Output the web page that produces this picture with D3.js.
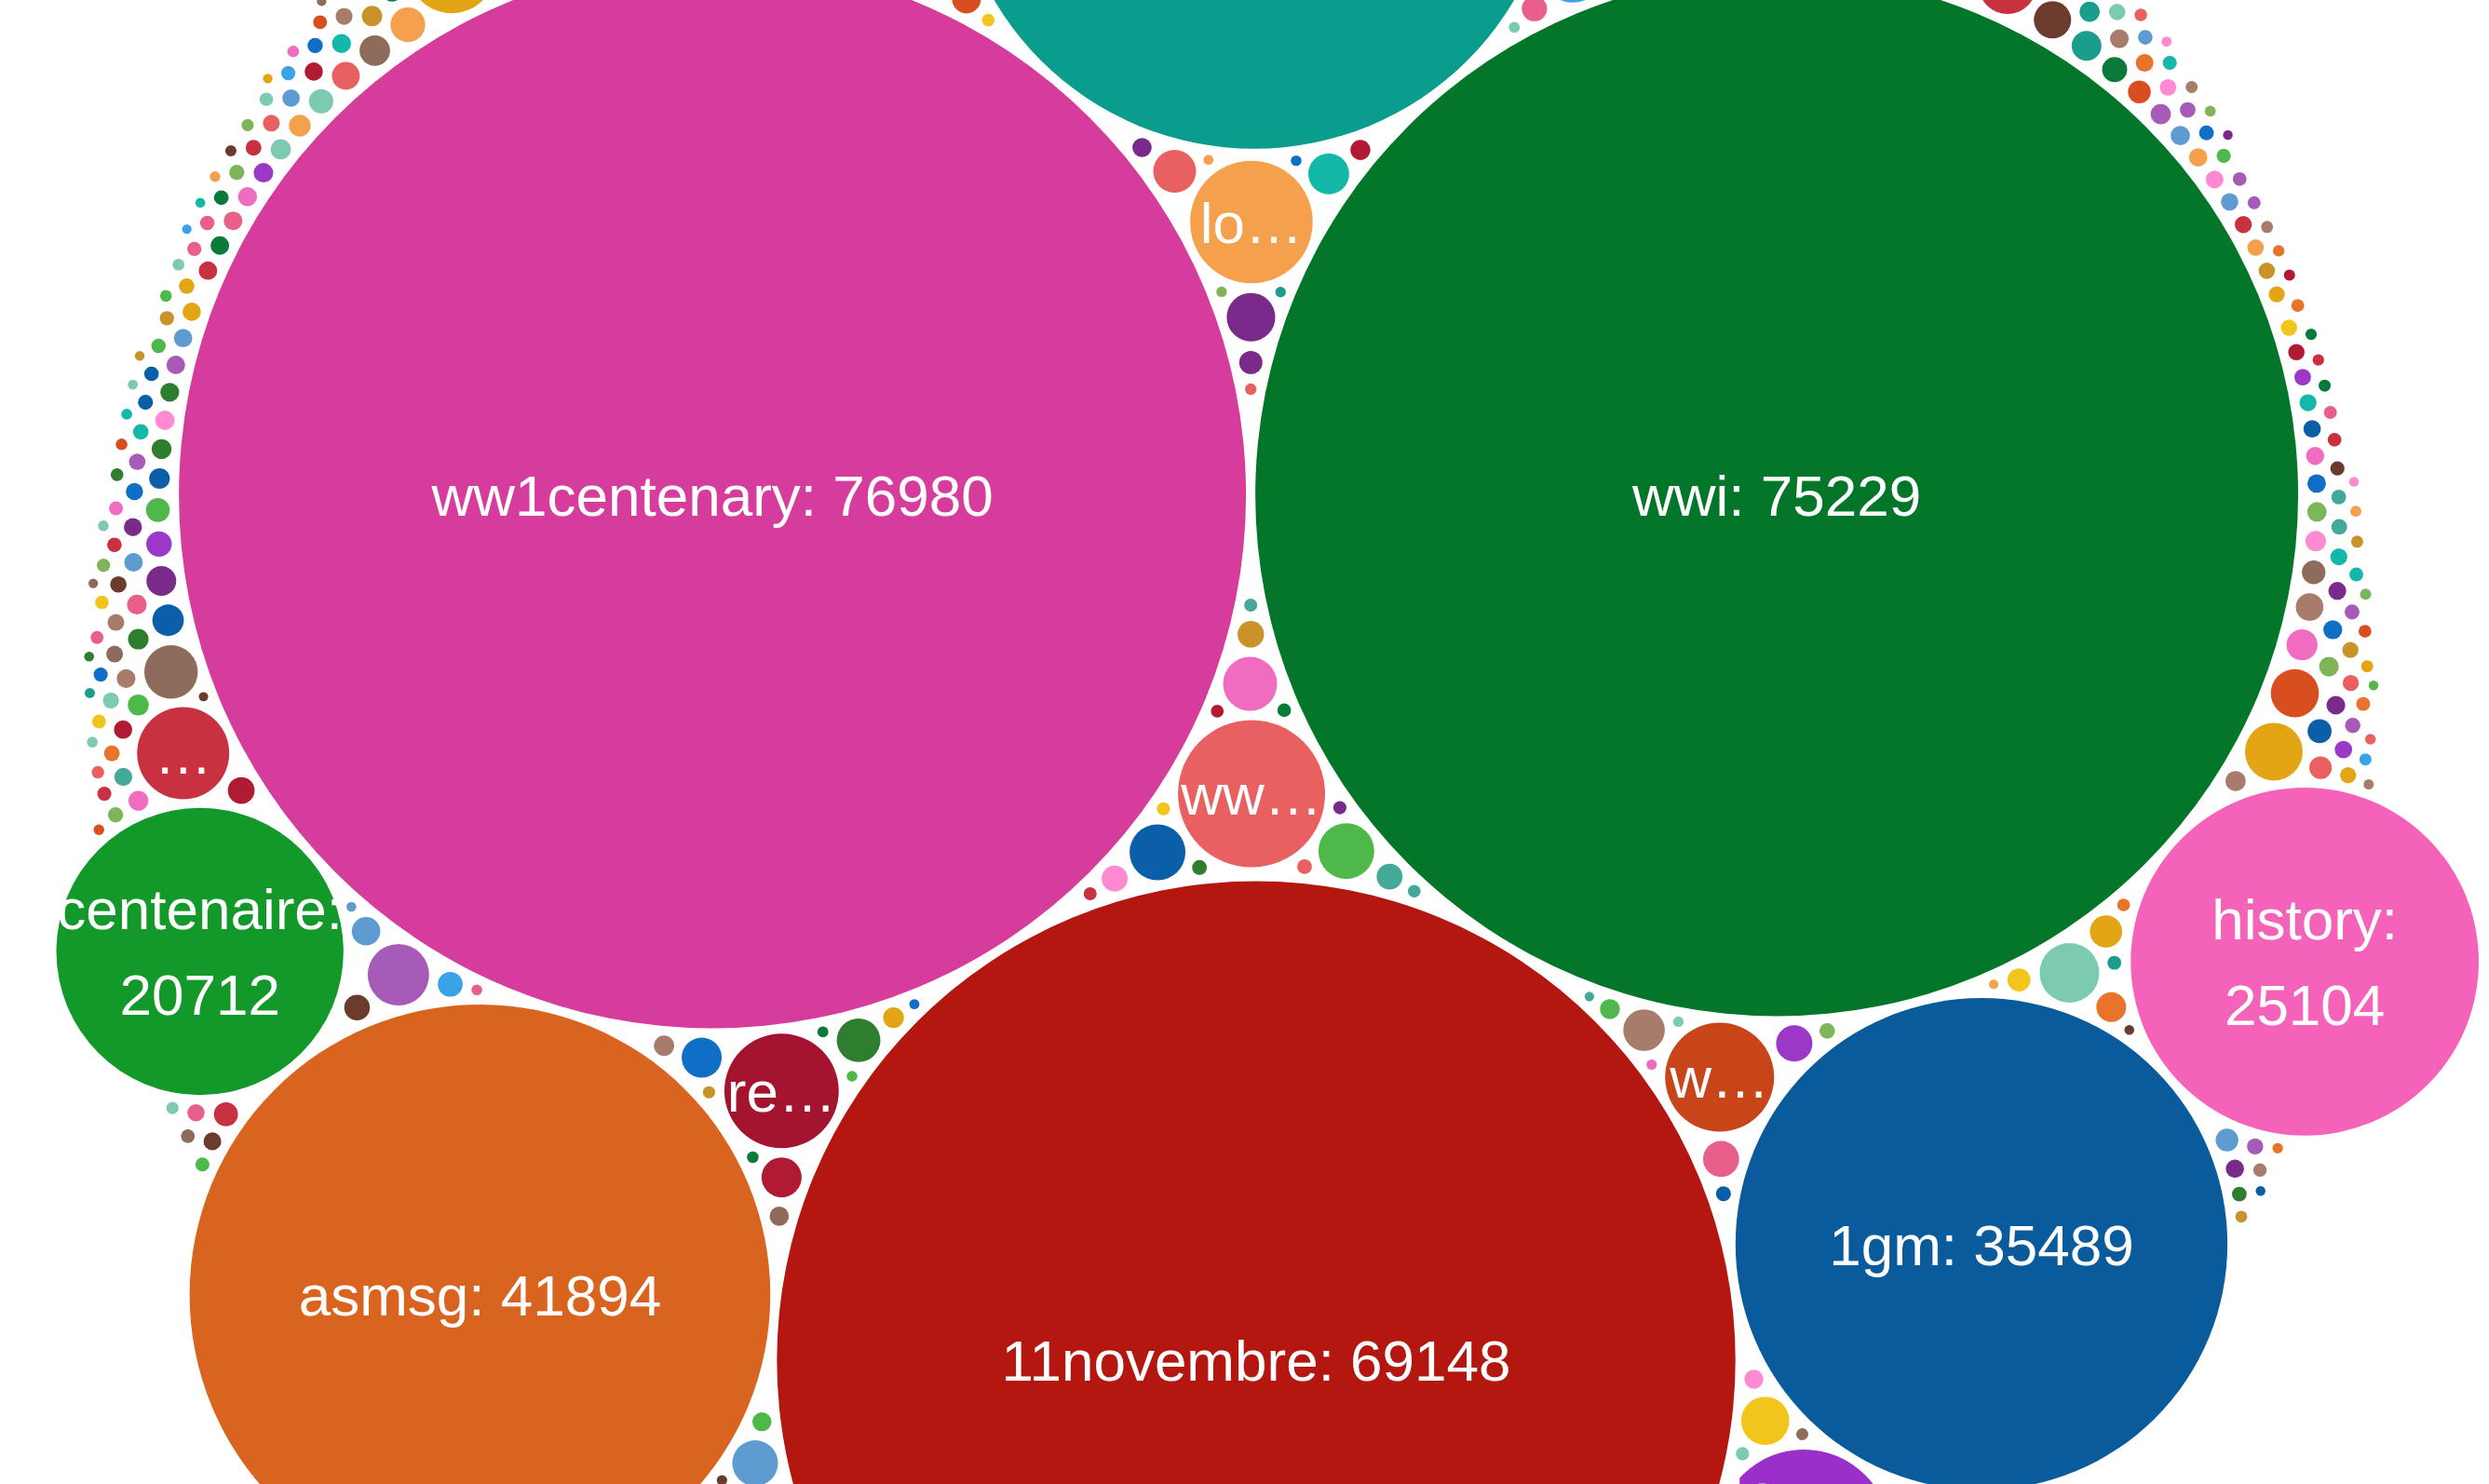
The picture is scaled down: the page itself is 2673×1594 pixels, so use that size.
<!DOCTYPE html>
<html><head><meta charset="utf-8">
<script src="https://cdn.jsdelivr.net/npm/d3@7"></script>
<style>html,body{margin:0;padding:0;background:#fff;overflow:hidden}</style>
</head><body>
<svg id="chart" width="2673" height="1594"></svg>
<script>
// Labelled hashtags, in the order they are laid out
const tags = ["ww1centenary","wwi","11novembre","armistice","asmsg","1gm","lestweforget","armisticeday","centenaire","history","towerpoppies","ww100","centenary","londres","remembrance","ypres","worldwar1","tommy","memoire","wearehere","remembranceday","armistice100"];
const counts = [76980,75229,69148,43500,41894,35489,28500,27000,20712,25104,12500,10610,10480,8840,8250,8020,7860,7120,6650,6580,6500,6380];
const tagColors = ["#d63c9c","#03762a","#b3170f","#0a9c8c","#d9641f","#0a5b9c","#e3a514","#3b76b6","#13982a","#f562b9","#9a2fc9","#e86060","#4fb84a","#f4a04c","#a4142f","#1e8775","#c8451a","#7b1f88","#c8313f","#3b76b6","#48ad99","#e3a514"];
// Small bubbles whose labels are not legible
const minorCounts = [
5240,4490,4430,4300,4160,4160,4030,4030,3900,3860,3660,3560,3500,3470,3470,3300,3150,3090,3000,2950,
2890,2890,2820,2820,2800,2700,2690,2620,2600,2510,2510,2510,2450,2380,2330,2310,2270,2240,2240,2200,
2150,2150,2150,2120,2080,2060,2040,2010,1990,1980,1960,1930,1930,1910,1880,1870,1850,1840,1820,1810,
1800,1790,1780,1760,1750,1740,1730,1720,1710,1700,1690,1680,1670,1660,1650,1640,1630,1620,1610,1600,
1480,920,760,1310,1050,690,1190,850,1420,980,720,1260,1110,800,1380,940,700,1230,1010,870,
1550,760,1150,910,690,1340,1070,830,1460,990,740,1280,1120,880,1200,950,670,1400,1030,790,
1330,860,1170,720,1500,940,1080,780,1250,690,1410,1000,830,1140,960,710,1300,1060,890,1220,
770,1440,1090,700,1350,920,1180,810,1270,1040,680,1490,970,850,1160,740,1320,1010,900,1210,
1130,790,1390,950,690,1260,1060,820,1450,1000,730,1290,1100,870,1370,930,710,1240,1020,840,
1570,880,1190,760,1320,990,680,1430,1070,800,1280,940,1150,720,1360,1050,860,1210,970,700,
1240,810,1400,1030,740,1300,910,1170,780,1470,1080,690,1340,960,1120,830,1260,1000,750,1390,
920,1180,700,1510,1040,860,1230,770,1350,980,1100,720,1420,890,1270,1060,810,1190,940,680,
1310,1020,760,1460,870,1140,990,710,1380,1090,830,1250,950,1170,740,1330,1010,900,1220,790,
1530,960,1130,700,1290,1050,820,1410,930,1200,760,1360,1080,880,1160,690,1440,1020,840,1270,
1000,730,1350,910,1180,800,1480,1060,950,1230,700,1320,1110,860,1400,970,750,1280,1040,820,
1190,930,1460,780,1090,1010,690,1370,890,1150,1240,720,1300,980,840,1420,1070,910,1210,760,
1340,1050,810,1500,940,1120,700,1260,1030,870,1390,990,740,1180,1080,830,1440,960,1230,680,
1100,850,1310,1000,770,1450,920,1170,1060,710,1360,1020,880,1270,950,1140,790,1410,1090,730,
1250,980,1380,830,1120,690,1490,1040,900,1200,760,1330,1070,940,1160,810,1430,1010,870,1290,
720,1180,1030,1470,860,1240,950,700,1350,1110,800,1400,990,1150,740,1300,1050,890,1220,1560,
940,1090,780,1420,1000,1260,710,1130,870,1370,1060,820,1190,960,1480,730,1280,1020,900,1340,
1150,850,1400,970,690,1230,1080,800,1310,1040,930,1450,760,1170,1000,880,1360,1110,740,1200,
1020,1320,790,1160,950,1440,700,1270,1070,840,1390,980,1130,770,1250,1050,910,1510,860,1190,
1280,730,1090,1410,890,1210,1010,760,1350,1120,830,1300,960,1180,710,1460,1030,870,1240,1060,
800,1370,940,1140,690,1330,1080,850,1430,990,1200,750,1290,1040,920,1390,1100,780,1260,1010
];
const palette = ["#f4a04c","#3aa3e8","#a65bb8","#7dcab2","#e3a514","#c8313f","#0b5ea8","#4fb84a","#f06cc0","#8e6b5a","#e8732a","#1a9d8a","#7a2a8a","#f2c51d","#d94e1f","#5e9bd0","#2f7d2f","#e86060","#a87c6a","#14b8a8","#0f6fc6","#b01a32","#7fb55a","#c9932a","#ff8ad2","#45a99a","#6b3b2e","#9b38c8","#e85f8a","#0a7a3a"];

const W = 2673, H = 1594, PAD = 5, FS = 62, LH = 92;
const SHIFT_X = 4, SHIFT_Y = -46;
const FONT = "'Liberation Sans', Arial, Helvetica, sans-serif";
const svg = d3.select("#chart");
const rScale = d3.scaleLinear().domain([0, d3.max(counts)]).range([0, 573]);

const major = tags.map((t, i) => ({name: t, value: counts[i], color: tagColors[i]}));
const minor = d3.sort(minorCounts.map((v, i) => ({name: "", value: v, color: palette[i % palette.length]})), (a, b) => b.value - a.value);
const nodes = major.concat(minor);
nodes.forEach(d => d.r = rScale(d.value));

// Greedy packing: each bubble goes to the free spot, tangent to two placed bubbles,
// closest to the area-weighted centroid of the bubbles already placed.
(function greedyPack(list) {
  const CELL = 64, grid = new Map();
  const key = (i, j) => i * 100003 + j;
  const add = c => {
    const R = c.r + PAD;
    for (let i = Math.floor((c.x - R) / CELL); i <= Math.floor((c.x + R) / CELL); i++)
      for (let j = Math.floor((c.y - R) / CELL); j <= Math.floor((c.y + R) / CELL); j++) {
        const k = key(i, j); let a = grid.get(k); if (!a) grid.set(k, a = []); a.push(c);
      }
  };
  const hits = (x, y, R) => {
    for (let i = Math.floor((x - R) / CELL); i <= Math.floor((x + R) / CELL); i++)
      for (let j = Math.floor((y - R) / CELL); j <= Math.floor((y + R) / CELL); j++) {
        const a = grid.get(key(i, j)); if (!a) continue;
        for (const c of a) {
          const dx = c.x - x, dy = c.y - y, s = c.r + PAD + R - 1e-3;
          if (dx * dx + dy * dy < s * s) return true;
        }
      }
    return false;
  };
  const placed = [];
  let pairs = [];
  let sw = 0, sx = 0, sy = 0;
  const commit = c => {
    const Rc = c.r + PAD;
    for (const q of placed) {
      const d = Math.hypot(q.x - c.x, q.y - c.y);
      if (d <= Rc + q.r + PAD + 2 * Rc + 1e-6) pairs.push([c, q, d]);
    }
    placed.push(c); add(c);
    const w = c.r * c.r; sw += w; sx += w * c.x; sy += w * c.y;
  };
  list[0].x = 0; list[0].y = 0; commit(list[0]);
  list[1].x = list[0].r + list[1].r + 2 * PAD; list[1].y = 0; commit(list[1]);
  for (let n = 2; n < list.length; n++) {
    const c = list[n], R = c.r + PAD, cx = sx / sw, cy = sy / sw;
    const maxR = d3.max(list.slice(n), d => d.r) + PAD;
    pairs = pairs.filter(p => p[2] <= p[0].r + p[1].r + 2 * PAD + 2 * maxR);
    const cand = [];
    for (const [p, q, d] of pairs) {
      const a = p.r + PAD + R, b = q.r + PAD + R;
      if (d > a + b) continue;
      const x = (d * d + a * a - b * b) / (2 * d), h2 = a * a - x * x;
      if (h2 < 0) continue;
      const h = Math.sqrt(h2), ux = (q.x - p.x) / d, uy = (q.y - p.y) / d;
      const bx = p.x + x * ux, by = p.y + x * uy;
      for (const s of [1, -1]) {
        const X = bx - s * h * uy, Y = by + s * h * ux;
        cand.push([(X - cx) * (X - cx) + (Y - cy) * (Y - cy) - Y * 1e-6, X, Y]);
      }
    }
    cand.sort((u, v) => u[0] - v[0]);
    let done = false;
    for (const [, X, Y] of cand) {
      if (!hits(X, Y, R)) { c.x = X; c.y = Y; done = true; break; }
    }
    if (!done) { c.x = cx; c.y = cy - 1e5; }
    commit(c);
  }
})(nodes);

const enc = d3.packEnclose(nodes.map(d => ({x: d.x, y: d.y, r: d.r})));
const tx = W / 2 + SHIFT_X - enc.x, ty = H / 2 + SHIFT_Y - enc.y;
const g = svg.append("g").attr("transform", `translate(${tx},${ty})`);

g.selectAll("circle").data(nodes).join("circle")
  .attr("cx", d => d.x).attr("cy", d => d.y).attr("r", d => d.r).attr("fill", d => d.color);

const measurer = svg.append("text").attr("font-family", FONT).attr("font-size", FS).attr("visibility", "hidden");
function tw(s) { measurer.text(s); return measurer.node().getComputedTextLength(); }
function fit(s, w) {
  if (tw(s) <= w) return s;
  let t = s;
  while (t.length > 0 && tw(t + "…") > w) t = t.slice(0, -1);
  return t + "…";
}
function labelLines(d) {
  const full = d.name + ": " + d.value;
  const D = 2 * d.r;
  if (tw(full) <= D) return [full];
  const n = Math.floor(D / LH);
  if (n < 2) return [fit(d.name + ":", D)];
  const yc = LH / 2;
  const chord = 2 * Math.sqrt(Math.max(0, d.r * d.r - yc * yc));
  const val = String(d.value);
  return [fit(d.name + ":", D), tw(val) <= chord ? val : "…"];
}
const labelled = nodes.filter(d => d.name && d.r >= 40);
const lineData = [];
labelled.forEach(d => {
  const lines = labelLines(d);
  lines.forEach((s, k) => {
    const y = d.y + (k - (lines.length - 1) / 2) * LH;
    const top = ty + y - 0.4 * FS, bottom = ty + y + 0.6 * FS;
    if (bottom > 0 && top < H) lineData.push({s, x: d.x, y});
  });
});
measurer.remove();
g.selectAll("text.lbl").data(lineData).join("text").attr("class", "lbl")
  .attr("font-family", FONT).attr("font-size", FS)
  .attr("fill", "#fff").attr("text-anchor", "middle")
  .attr("x", t => t.x).attr("y", t => t.y).attr("dy", "0.36em")
  .text(t => t.s);
</script>
</body></html>
